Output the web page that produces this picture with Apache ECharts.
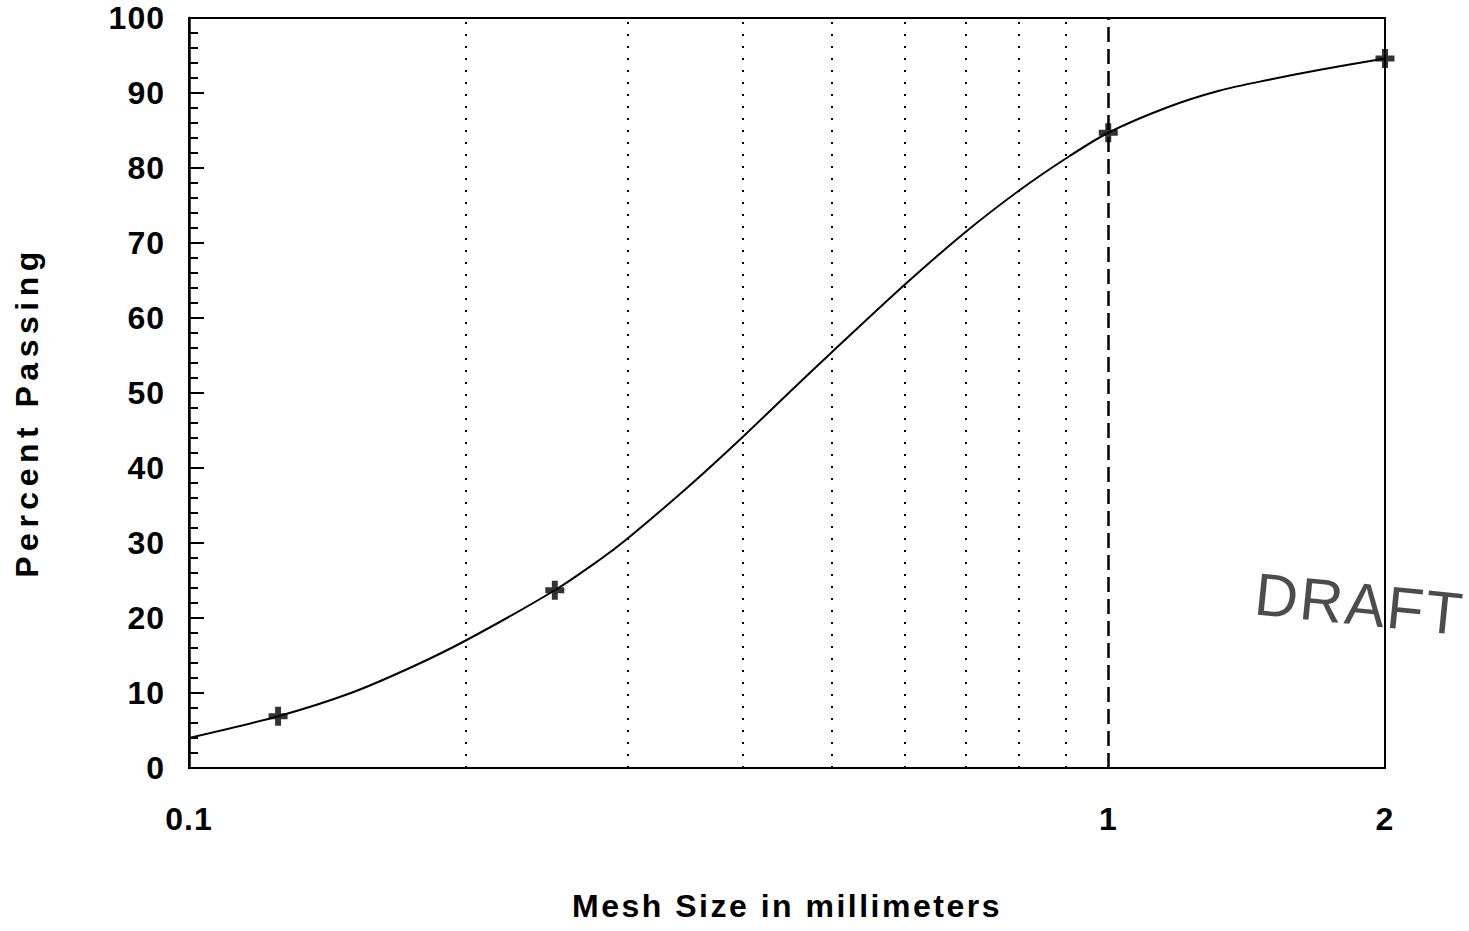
<!DOCTYPE html>
<html>
<head>
<meta charset="utf-8">
<script src="https://cdn.jsdelivr.net/npm/echarts@6/dist/echarts.min.js"></script>
<style>
  html, body { margin: 0; padding: 0; background: #fff; }
  #main { width: 1469px; height: 931px; }
</style>
</head>
<body>
<div id="main"></div>
<script>
// grading curve (mesh size mm, percent passing)
const curveX = [0.1, 0.125, 0.15, 0.175, 0.2, 0.25, 0.28, 0.3, 0.35, 0.4, 0.45, 0.5, 0.6, 0.7, 0.8, 0.9, 1.0, 1.16, 1.32, 1.5, 1.7, 2.0]
const curveY = [4.0, 6.9, 10.0, 13.5, 17.0, 23.7, 27.8, 30.6, 37.6, 44.1, 50.1, 55.4, 64.4, 71.5, 77.0, 81.3, 84.7, 88.1, 90.3, 91.8, 93.1, 94.6]
// measured sieve points (+ marks)
const sieveX = [0.125, 0.25, 1, 2]
const sieveY = [6.9, 23.7, 84.7, 94.6]
// vertical reference lines
const dottedLines = [0.2, 0.3, 0.4, 0.5, 0.6, 0.7, 0.8, 0.9]
const dashedLine = 1
const xTickLabels = [0.1, 1, 2]

const font = 'Liberation Sans, Arial, sans-serif'
const plus = 'path://M5.5,0h5v5.5h5.5v5h-5.5v5.5h-5v-5.5h-5.5v-5h5.5z'

const chart = echarts.init(document.getElementById('main'), null, { renderer: 'svg' })

let option = {
  animation: false,
  backgroundColor: '#fff',
  grid: {
    left: 189, top: 18, right: 84, bottom: 163,
    show: true, borderColor: '#000', borderWidth: 2
  },
  xAxis: {
    type: 'log',
    logBase: 10,
    min: 0.1,
    max: 2,
    name: 'Mesh Size in millimeters',
    nameLocation: 'middle',
    nameGap: 122,
    nameTextStyle: { fontFamily: font, fontWeight: 'bold', fontSize: 32, color: '#000' },
    axisLine: { lineStyle: { color: '#000', width: 2 } },
    axisTick: { show: false },
    minorTick: { show: false },
    splitLine: { show: false },
    axisLabel: {
      customValues: xTickLabels,
      margin: 35,
      fontFamily: font, fontWeight: 'bold', fontSize: 32, color: '#000',
      formatter: v => String(+(+v).toPrecision(3))
    }
  },
  yAxis: {
    type: 'value',
    min: 0,
    max: 100,
    interval: 10,
    name: 'Percent Passing',
    nameLocation: 'middle',
    nameGap: 146,
    nameTextStyle: { fontFamily: font, fontWeight: 'bold', fontSize: 32, color: '#000', padding: [0, 38, 0, 0] },
    axisLine: { lineStyle: { color: '#000', width: 2.5 } },
    axisTick: { inside: true, length: 15, lineStyle: { color: '#000', width: 2 } },
    minorTick: { show: true, splitNumber: 5, length: 9, lineStyle: { color: '#000', width: 2 } },
    splitLine: { show: false },
    axisLabel: { margin: 24, fontFamily: font, fontWeight: 'bold', fontSize: 32, color: '#000' }
  },
  series: [
    {
      type: 'line',
      data: curveX.map((x, i) => [x, curveY[i]]),
      smooth: 0.3,
      showSymbol: false,
      lineStyle: { color: '#000', width: 2 },
      markLine: {
        silent: true,
        symbol: 'none',
        label: { show: false },
        data: [
          ...dottedLines.map(v => ({ xAxis: v, lineStyle: { color: '#000', width: 2, type: [2, 10] } })),
          { xAxis: dashedLine, lineStyle: { color: '#000', width: 2.5, type: [15, 7] } }
        ]
      }
    },
    {
      type: 'scatter',
      data: sieveX.map((x, i) => [x, sieveY[i]]),
      symbol: plus,
      symbolSize: 19,
      clip: false,
      itemStyle: { color: '#000' },
      z: 5
    }
  ],
  graphic: [
    {
      type: 'text',
      left: 1252,
      top: 564,
      rotation: -0.1,
      style: {
        text: 'DRAFT',
        font: '60px ' + font,
        fill: 'rgba(0,0,0,0.7)'
      },
      z: 10
    }
  ]
}
chart.setOption(option)

// the scanned chart uses wide letter spacing on its titles
const spacing = { 'Mesh Size in millimeters': 2.5, 'Percent Passing': 5.5, 'DRAFT': 2 }
const spread = () => {
  chart.getDom().querySelectorAll('text').forEach(t => {
    const s = spacing[t.textContent]
    t.setAttribute('letter-spacing', (s || 1) + 'px')
  })
}
chart.on('finished', spread)
spread()
</script>
</body>
</html>
